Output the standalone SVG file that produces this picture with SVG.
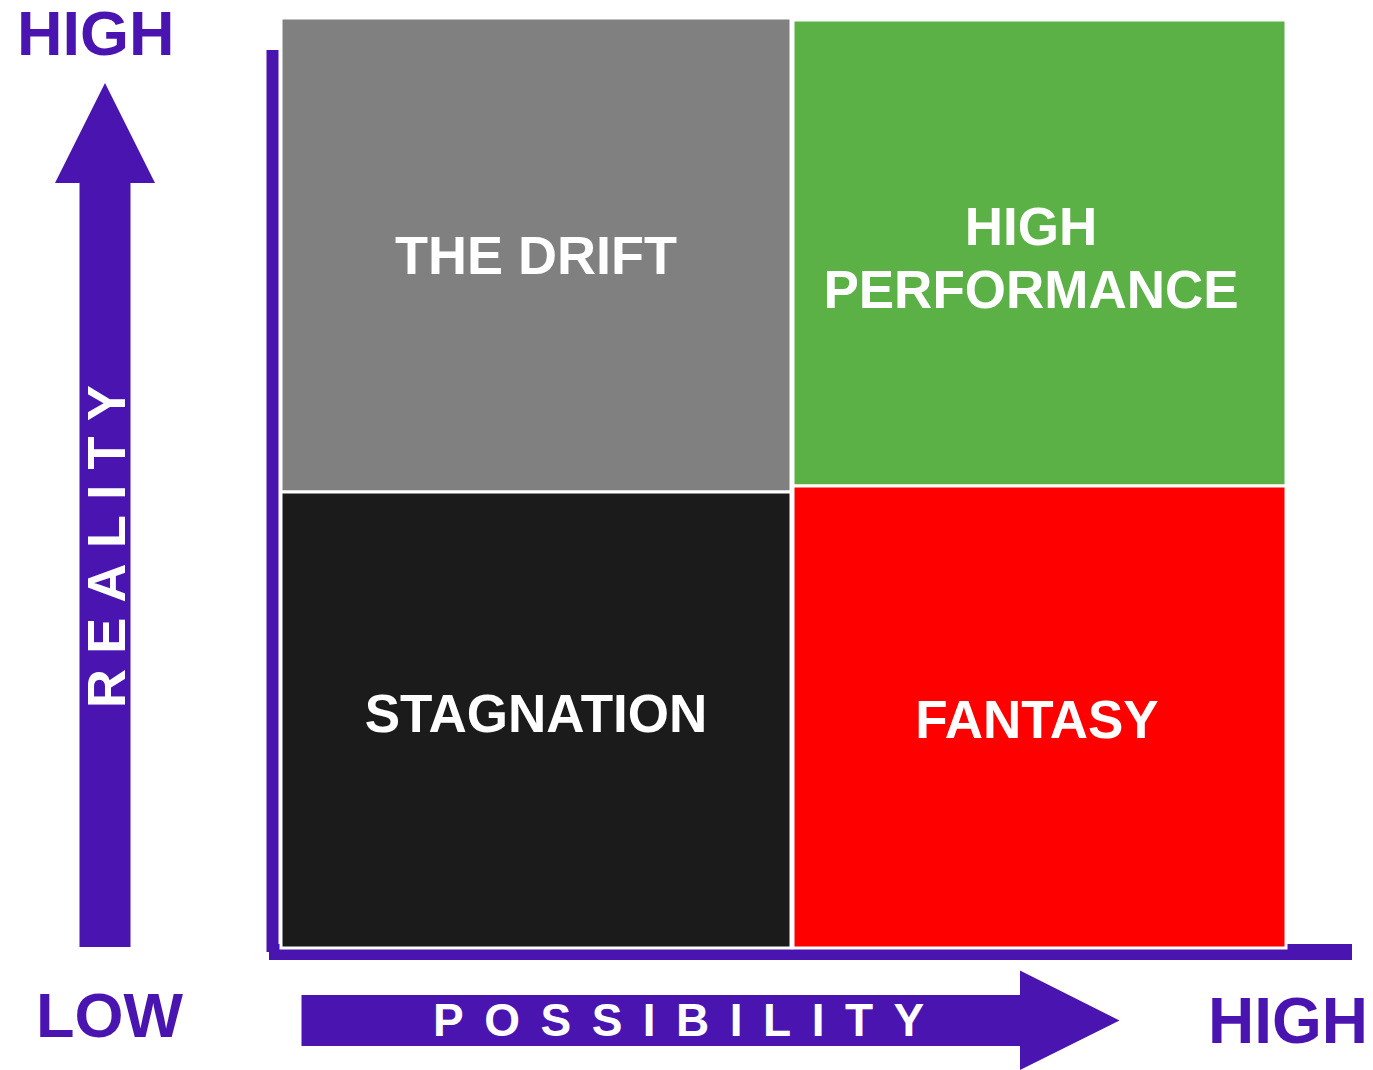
<svg xmlns="http://www.w3.org/2000/svg" width="1373" height="1070" viewBox="0 0 1373 1070">
  <style>
    .ax { fill: #4a14b0; }
    .box { stroke: #ffffff; stroke-width: 3; }
    .lbl { font-family: "Liberation Sans", Arial, sans-serif; font-weight: bold; fill: #ffffff; text-anchor: middle; font-size: 53px; }
    .end { font-family: "Liberation Sans", Arial, sans-serif; font-weight: bold; fill: #4a14b0; }
    .axt { font-family: "Liberation Sans", Arial, sans-serif; font-weight: bold; fill: #ffffff; }
  </style>
  <rect width="1373" height="1070" fill="#ffffff"/>
  <g id="connectors">
    <rect class="ax" x="266.5" y="50" width="12" height="902"/>
    <rect class="ax" x="269" y="944" width="1083" height="16"/>
    <polygon id="reality-arrow" class="ax" points="105,83 155,183 130.5,183 130.5,947 79.5,947 79.5,183 55,183"/>
    <polygon id="possibility-arrow" class="ax" points="301.5,995 1020,995 1020,970.5 1119.5,1020.5 1020,1070 1020,1046 301.5,1046"/>
  </g>
  <g id="drift">
    <rect class="box" x="281" y="18" width="510" height="474" fill="#808080"/>
    <text class="lbl" x="536" y="274" style="font-size:54px">THE DRIFT</text>
  </g>
  <g id="stagnation">
    <rect class="box" x="281" y="492" width="510" height="456" fill="#1b1b1b"/>
    <text class="lbl" x="536" y="732" style="font-size:53px">STAGNATION</text>
  </g>
  <g id="high-performance">
    <rect class="box" x="793" y="20" width="493" height="466" fill="#5cb146"/>
    <text class="lbl" x="1031" y="245">HIGH</text>
    <text class="lbl" x="1031" y="308">PERFORMANCE</text>
  </g>
  <g id="fantasy">
    <rect class="box" x="793" y="486" width="493" height="462" fill="#ff0000"/>
    <text class="lbl" x="1037" y="738" style="font-size:53px">FANTASY</text>
  </g>
  <g id="axis-labels">
    <text class="end" x="17" y="55" font-size="63">HIGH</text>
    <text class="end" x="36" y="1037" font-size="63">LOW</text>
    <text class="end" x="1208" y="1043" font-size="64">HIGH</text>
    <text class="axt" x="0" y="0" font-size="54" letter-spacing="15.3" transform="translate(125,708) rotate(-90)">REALITY</text>
    <text class="axt" x="433" y="1036" font-size="46" letter-spacing="20.5">POSSIBILITY</text>
  </g>
</svg>
